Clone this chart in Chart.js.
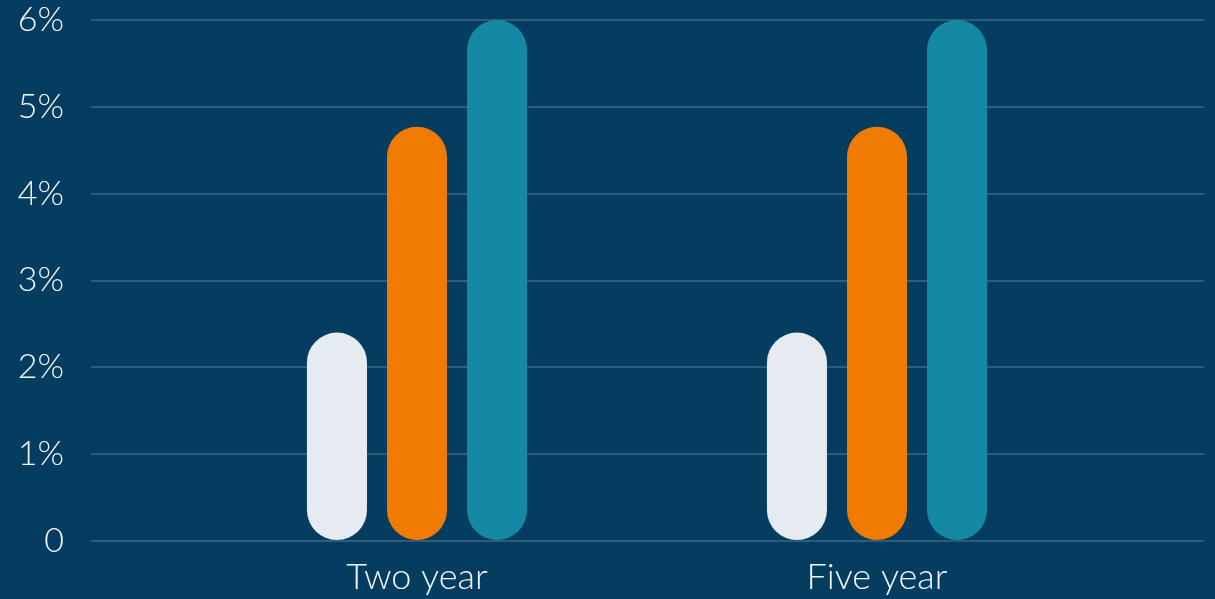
<!DOCTYPE html>
<html>
<head>
<meta charset="utf-8">
<script src="https://cdn.jsdelivr.net/npm/chart.js@4"></script>
<style>
  html, body { margin: 0; padding: 0; background: #043d5f; }
  #wrap { width: 1215px; height: 599px; }
</style>
</head>
<body>
<div id="wrap"><canvas id="barChart" width="1215" height="599"></canvas></div>
<script>
const categories = ['Two year', 'Five year'];
const seriesA = [2.4, 2.4];
const seriesB = [4.77, 4.77];
const seriesC = [6.0, 6.0];
const yTicks = [0, 1, 2, 3, 4, 5, 6];

const ctx = document.getElementById('barChart').getContext('2d');
const gridColor = '#2e5c7c';
const textColor = '#f4f7fa';
const fontFamily = 'Lato, "Open Sans", "Noto Sans", sans-serif';

const barStyle = {
    borderRadius: 30,
    borderSkipped: false,
    barPercentage: 0.75,
    categoryPercentage: 0.522
};

// y axes: no extra padding from labels, fixed width
const fixY = (width) => (scale) => {
    scale.width = width;
    scale.paddingTop = 0;
    scale.paddingBottom = 0;
};

const data = {
    labels: categories,
    datasets: [
        { data: seriesA, backgroundColor: '#e6ebf2', ...barStyle },
        { data: seriesB, backgroundColor: '#ef7b00', ...barStyle },
        { data: seriesC, backgroundColor: '#1589a4', ...barStyle }
    ]
};

const config = {
    type: 'bar',
    data: data,
    options: {
        responsive: false,
        animation: false,
        layout: { padding: { top: 20, bottom: 0, left: 0, right: 0 } },
        plugins: {
            legend: { display: false },
            tooltip: { enabled: false }
        },
        scales: {
            x: {
                afterFit: (scale) => {
                    scale.height = 58;
                    scale.paddingLeft = 0;
                    scale.paddingRight = 0;
                },
                grid: { display: false, drawTicks: false },
                border: { display: false },
                ticks: {
                    color: textColor,
                    padding: 15,
                    font: { family: fontFamily, size: 36, weight: 300 }
                }
            },
            y: {
                min: 0,
                max: 6,
                afterBuildTicks: (scale) => { scale.ticks = yTicks.map(v => ({ value: v })); },
                afterFit: fixY(187),
                grid: { color: gridColor, lineWidth: 2, tickLength: 96, drawTicks: true },
                border: { display: false },
                ticks: {
                    color: textColor,
                    padding: 27,
                    font: { family: fontFamily, size: 34, weight: 300 },
                    callback: (value) => value === 0 ? '0' : value + '%'
                }
            },
            y2: {
                position: 'right',
                min: 0,
                max: 6,
                afterBuildTicks: (scale) => { scale.ticks = yTicks.map(v => ({ value: v })); },
                afterFit: fixY(108),
                grid: { color: gridColor, lineWidth: 2, tickLength: 97, drawTicks: true },
                border: { display: false },
                ticks: { display: false }
            }
        }
    }
};

const barChart = new Chart(ctx, config);
</script>
</body>
</html>
